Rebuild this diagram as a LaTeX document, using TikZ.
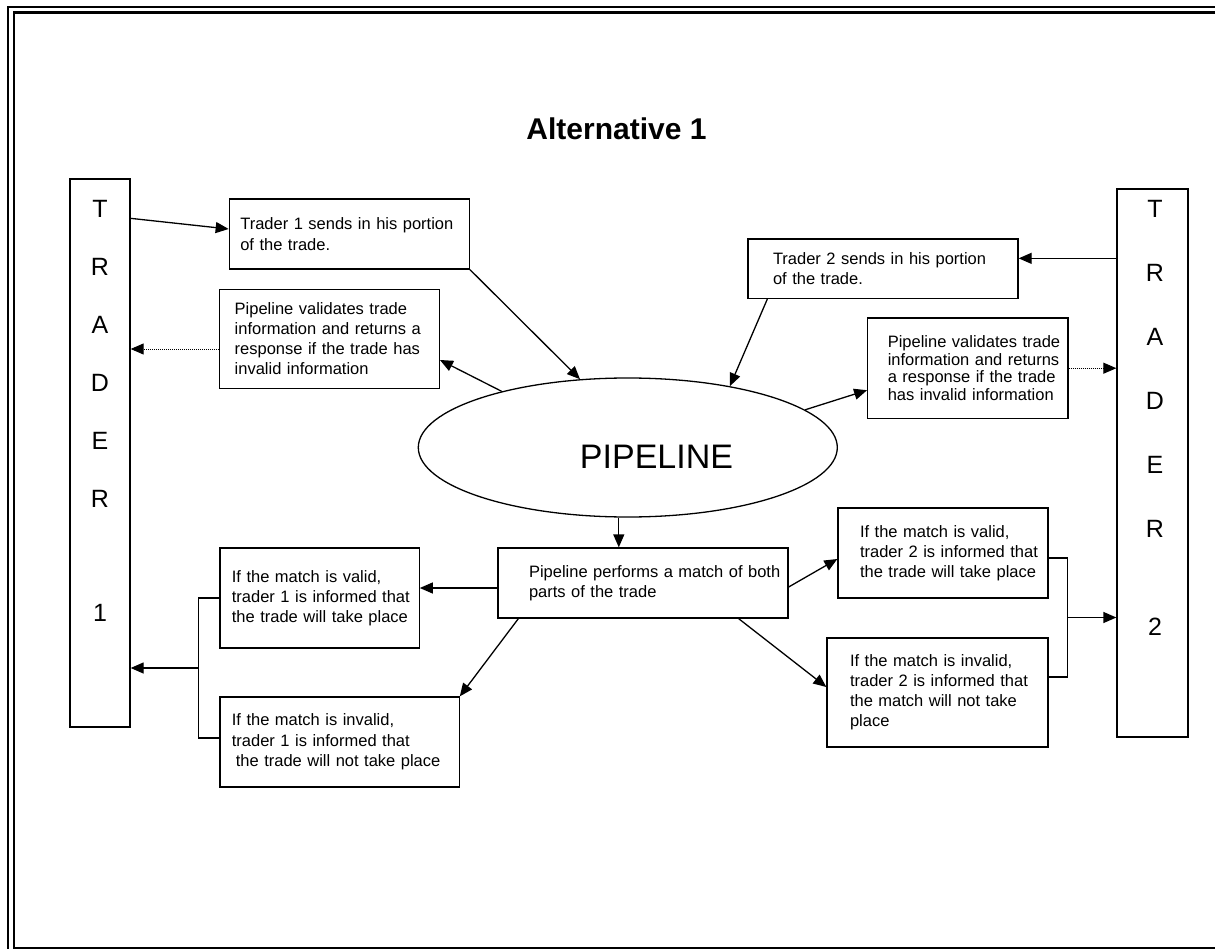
\documentclass[tikz,border=0pt]{standalone}
\usepackage{fontspec}
\setmainfont{Liberation Sans}
\usetikzlibrary{arrows.meta,shapes.geometric,calc}
\newcommand\padl[1]{\leftskip=#1\relax}
\begin{document}
\begin{tikzpicture}[x=1pt,y=-1pt,
  ln/.style={line width=1.3pt},
  arr/.style={line width=1.3pt,-{Triangle[length=13pt,width=11pt]}},
  dotarr/.style={line width=0.9pt,dash pattern=on 1pt off 1pt,-{Triangle[length=13pt,width=11pt]}},
  box/.style={draw,line width=1.3pt,rectangle,inner xsep=0pt,inner ysep=0pt,align=left,
     font=\fontsize{16.5pt}{20pt}\selectfont},
  trader/.style={draw,line width=1.3pt,rectangle,inner sep=0pt},
  letters/.style={inner sep=0pt,text width=60pt,align=center,anchor=north},
]
\useasboundingbox (0,0) rectangle (1215,949);
% frame
\begin{scope}
\clip (0,0) rectangle (1215,949);
\draw[line width=2.2pt] (8,980) -- (8,7) -- (1240,7);
\draw[line width=2.2pt] (1240,947.7) -- (13.8,947.7) -- (13.8,12.5) -- (1240,12.5);
\end{scope}

\node[font=\bfseries\fontsize{30pt}{36pt}\selectfont,inner sep=0pt] (title) at (616.5,129) {Alternative 1};

% traders
\node[trader,minimum width=60pt,minimum height=548pt] (tr1) at (100,453) {};
\node[trader,minimum width=71pt,minimum height=548pt] (tr2) at (1152.5,463) {};
\node[letters,font=\fontsize{25pt}{58pt}\selectfont] (tr1txt) at (100,200) {T\\R\\A\\D\\E\\R\\[56pt]1};
\node[letters,font=\fontsize{25pt}{64pt}\selectfont] (tr2txt) at (1155,200) {T\\R\\A\\D\\E\\R\\[34pt]2};

% boxes
\node[box,text width=240pt,minimum height=70pt,font=\fontsize{16.5pt}{21pt}\selectfont] (t1send) at (349.3,234)
  {\padl{11pt}Trader 1 sends in his portion\\of the trade.\par};
\node[box,text width=219.6pt,minimum height=99.4pt] (val1) at (329.5,339)
  {\padl{15pt}Pipeline validates trade\\information and returns a\\response if the trade has\\invalid information\par};
\node[box,text width=270pt,minimum height=59.3pt] (t2send) at (883,268.7)
  {\padl{25pt}Trader 2 sends in his portion\\of the trade.\par};
\node[box,text width=200.3pt,minimum height=100.3pt,font=\fontsize{16.5pt}{17.7pt}\selectfont] (val2) at (967.9,368.2)
  {\padl{20pt}Pipeline validates trade\\information and returns\\a response if the trade\\has invalid information\par};

\node[draw,ellipse,line width=1.3pt,minimum width=419pt,minimum height=139pt,inner sep=0pt,
  font=\fontsize{34pt}{40pt}\selectfont] (pipe) at (627.8,447.5) {\hspace*{57.4pt}PIPELINE\rule{0pt}{41.4pt}};

\node[box,text width=290pt,minimum height=70pt] (match) at (643,583)
  {\padl{31pt}Pipeline performs a match of both\\parts of the trade\par};
\node[box,text width=199.3pt,minimum height=100pt] (valid1) at (319.5,598)
  {\padl{12pt}If the match is valid,\\trader 1 is informed that\\the trade will take place\par};
\node[box,text width=239.3pt,minimum height=90pt,font=\fontsize{16.5pt}{20.5pt}\selectfont] (invalid1) at (339.5,742)
  {\padl{12pt}If the match is invalid,\\trader 1 is informed that\\\hspace*{4pt}the trade will not take place\par};
\node[box,text width=210pt,minimum height=90pt] (valid2) at (943,553)
  {\padl{22pt}If the match is valid,\\trader 2 is informed that\\the trade will take place\par};
\node[box,text width=221pt,minimum height=109pt] (invalid2) at (937.5,692.5)
  {\padl{23pt}If the match is invalid,\\trader 2 is informed that\\the match will not take\\place\par};

% connectors
\draw[arr] ([yshift=-40pt]tr1.north east) -- ([yshift=5pt]t1send.west);
\draw[arr] (t1send.south east) -- (pipe.125);
\draw[arr] (pipe.156) -- ([yshift=-21pt]val1.east);
\coordinate (a8) at ([yshift=-10pt]val1.west);
\draw[dotarr] (a8) -- (tr1.east |- a8);
\coordinate (a5) at ([yshift=-70pt]tr2.north west);
\draw[arr] (a5) -- (t2send.east |- a5);
\draw[arr] ([xshift=20pt]t2send.south west) -- (pipe.31);
\draw[arr] (pipe.12) -- ([yshift=-22pt]val2.west);
\draw[dotarr] (val2.east) -- (tr2.west |- val2.east);
\coordinate (a9) at ([xshift=-9pt]pipe.south);
\draw[arr] (a9) -- (match.north -| a9);
\coordinate (a10) at ([yshift=-5pt]match.west);
\draw[arr] (a10) -- (valid1.east |- a10);
\draw[arr] ([xshift=21pt]match.south west) -- (invalid1.north east);
\draw[arr] ([yshift=-4pt]match.east) -- ([yshift=-6pt]valid2.west);
\draw[arr] ([xshift=-50pt]match.south east) -- ([yshift=5.5pt]invalid2.west);

% left bracket
\coordinate (b1top) at ($(valid1.west)+(-21,0)$);
\coordinate (b1bot) at ($(b1top |- invalid1.west)+(0,-4)$);
\draw[ln] (valid1.west) -- (b1top) -- (b1bot) -- (invalid1.west |- b1bot);
\coordinate (b1mid) at ($(b1top)!0.5!(b1bot)$);
\draw[arr] (b1mid) -- (tr1.east |- b1mid);

% right bracket
\coordinate (b2top) at ($(valid2.east)+(19,5)$);
\coordinate (b2bot) at ($(invalid2.east)+(19,-15.5)$);
\draw[ln] (valid2.east |- b2top) -- (b2top) -- (b2bot) -- (invalid2.east |- b2bot);
\coordinate (b2mid) at ($(b2top)!0.5!(b2bot)$);
\draw[arr] (b2mid) -- (tr2.west |- b2mid);
\end{tikzpicture}
\end{document}
